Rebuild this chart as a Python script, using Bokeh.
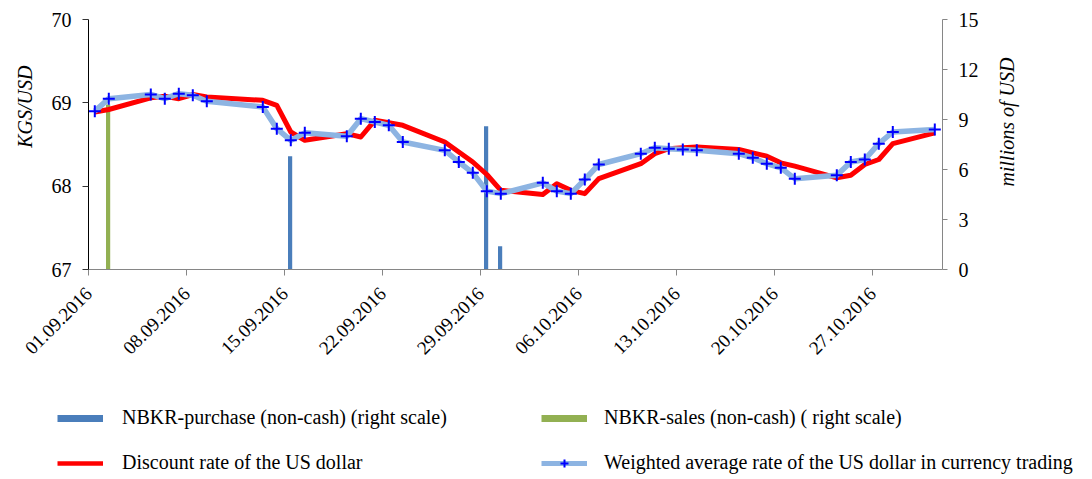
import math
from datetime import date

from bokeh.plotting import figure
from bokeh.layouts import column, row
from bokeh.models import (Range1d, LinearAxis, FixedTicker, Legend, LegendItem,
                          Label, Title, ColumnDataSource)
from bokeh.embed import file_html
from bokeh.resources import INLINE

# ---------------- data ----------------
obs_dates = ["01.09.2016", "02.09.2016", "05.09.2016", "06.09.2016", "07.09.2016",
             "08.09.2016", "09.09.2016", "13.09.2016", "14.09.2016", "15.09.2016",
             "16.09.2016", "19.09.2016", "20.09.2016", "21.09.2016", "22.09.2016",
             "23.09.2016", "26.09.2016", "27.09.2016", "28.09.2016", "29.09.2016",
             "30.09.2016", "03.10.2016", "04.10.2016", "05.10.2016", "06.10.2016",
             "07.10.2016", "10.10.2016", "11.10.2016", "12.10.2016", "13.10.2016",
             "14.10.2016", "17.10.2016", "18.10.2016", "19.10.2016", "20.10.2016",
             "21.10.2016", "24.10.2016", "25.10.2016", "26.10.2016", "27.10.2016",
             "28.10.2016", "31.10.2016"]

weighted_rate = [68.90, 69.05, 69.10, 69.05, 69.11, 69.09, 69.02, 68.95, 68.69, 68.55,
                 68.64, 68.60, 68.81, 68.77, 68.73, 68.53, 68.43, 68.29, 68.16, 67.94,
                 67.91, 68.04, 67.94, 67.91, 68.08, 68.26, 68.39, 68.46, 68.45, 68.44,
                 68.43, 68.39, 68.34, 68.27, 68.22, 68.09, 68.13, 68.29, 68.32, 68.51,
                 68.65, 68.68]

discount_rate = [68.89, 68.92, 69.06, 69.08, 69.05, 69.10, 69.07, 69.03, 68.97, 68.65,
                 68.55, 68.63, 68.59, 68.79, 68.76, 68.73, 68.53, 68.41, 68.29, 68.14,
                 67.95, 67.90, 68.03, 67.95, 67.91, 68.09, 68.27, 68.39, 68.45, 68.46,
                 68.47, 68.44, 68.40, 68.36, 68.28, 68.24, 68.10, 68.13, 68.26, 68.32,
                 68.51, 68.64]

purchase_dates = ["15.09.2016", "29.09.2016", "30.09.2016"]
purchase_values = [6.8, 8.6, 1.4]          # millions of USD (right scale)

sales_dates = ["02.09.2016"]
sales_values = [9.9]                        # millions of USD (right scale)

tick_labels = ["01.09.2016", "08.09.2016", "15.09.2016", "22.09.2016", "29.09.2016",
               "06.10.2016", "13.10.2016", "20.10.2016", "27.10.2016"]

left_ticks = [67, 68, 69, 70]
right_ticks = [0, 3, 6, 9, 12, 15]

legend_labels = ["NBKR-purchase (non-cash) (right scale)",
                 "Discount rate of the US dollar",
                 "NBKR-sales (non-cash) ( right scale)",
                 "Weighted average rate of the US dollar in currency trading"]

# ---------------- helpers ----------------
START = date(2016, 9, 1)
END = date(2016, 11, 1)


def day_num(s):
    d, m, y = map(int, s.split("."))
    return (date(y, m, d) - START).days


FONT = "Liberation Serif"
BAR_BLUE = "#4A7EBB"
BAR_GREEN = "#92B052"
RED = "#FF0000"
LIGHT_BLUE = "#8DB4E2"
CROSS_BLUE = "#0000FF"
GRAY = "#868686"

x_obs = [day_num(s) + 0.45 for s in obs_dates]
x_pur = [day_num(s) + 0.4 for s in purchase_dates]
x_sal = [day_num(s) + 0.4 for s in sales_dates]

src_lines = ColumnDataSource(dict(x=x_obs, w=weighted_rate, d=discount_rate))
src_pur = ColumnDataSource(dict(x=x_pur, v=purchase_values))
src_sal = ColumnDataSource(dict(x=x_sal, v=sales_values))

MAIN_W, MAIN_H = 990, 395
TOTAL_W, TOTAL_H = 1092, 479

# ---------------- main figure ----------------
p = figure(width=MAIN_W, height=MAIN_H, title=None,
           x_range=Range1d(0, (END - START).days), y_range=Range1d(67, 70),
           output_backend="svg", toolbar_location=None,
           min_border_left=88, min_border_right=MAIN_W - 942,
           min_border_top=19, min_border_bottom=MAIN_H - 269)
p.outline_line_color = None
p.grid.visible = False

p.extra_y_ranges = {"usd": Range1d(0, 15)}

p.vbar(x="x", top="v", bottom=0, width=0.3, source=src_pur, y_range_name="usd",
       fill_color=BAR_BLUE, line_color=None)
p.vbar(x="x", top="v", bottom=0, width=0.3, source=src_sal, y_range_name="usd",
       fill_color=BAR_GREEN, line_color=None)

p.line("x", "d", source=src_lines, line_color=RED, line_width=5, line_join="round")
p.line("x", "w", source=src_lines, line_color=LIGHT_BLUE, line_width=5.5,
       line_join="round")
p.scatter("x", "w", source=src_lines, marker="cross", size=12,
          line_color=CROSS_BLUE, line_width=2)

# x axis
xa = p.xaxis[0]
xa.ticker = FixedTicker(ticks=[day_num(s) for s in tick_labels])
xa.major_label_overrides = {day_num(s): s for s in tick_labels}
xa.major_label_orientation = math.pi / 4
xa.minor_tick_line_color = None
xa.axis_line_color = GRAY
xa.major_tick_line_color = GRAY
xa.major_tick_in = 0
xa.major_tick_out = 6
xa.major_label_standoff = 15
xa.major_label_text_font = FONT
xa.major_label_text_font_size = "19px"
xa.major_label_text_color = "black"

# left axis
ya = p.yaxis[0]
ya.ticker = FixedTicker(ticks=left_ticks)
ya.minor_tick_line_color = None
ya.axis_line_color = "black"
ya.major_tick_line_color = "#333333"
ya.major_tick_in = 0
ya.major_tick_out = 6
ya.major_label_standoff = 11
ya.major_label_text_font = FONT
ya.major_label_text_font_size = "20px"
ya.major_label_text_color = "black"

left_title = Title(text="KGS/USD", align="right", vertical_align="top", offset=46,
                   text_font=FONT, text_font_style="italic", text_font_size="20px",
                   text_color="black")
try:
    left_title.standoff = 22
except AttributeError:
    pass
p.add_layout(left_title, "left")

# right axis
ra = LinearAxis(y_range_name="usd", ticker=FixedTicker(ticks=right_ticks))
ra.minor_tick_line_color = None
ra.axis_line_color = GRAY
ra.major_tick_line_color = GRAY
ra.major_tick_in = 0
ra.major_tick_out = 5
ra.major_label_standoff = 11
ra.major_label_text_font = FONT
ra.major_label_text_font_size = "20px"
ra.major_label_text_color = "black"
p.add_layout(ra, "right")

# ---------------- right title strip ----------------
pr = figure(width=TOTAL_W - MAIN_W, height=MAIN_H, title=None,
            x_range=Range1d(MAIN_W, TOTAL_W), y_range=Range1d(0, MAIN_H),
            output_backend="svg", toolbar_location=None, min_border=0,
            x_axis_location=None, y_axis_location=None)
pr.outline_line_color = None
pr.grid.visible = False
pr.add_layout(Label(x=1006, y=MAIN_H - 162, text="millions of USD", angle=math.pi / 2,
                    text_align="center", text_baseline="middle",
                    text_font=FONT, text_font_style="italic", text_font_size="20px",
                    text_color="black"))

# ---------------- legend strip ----------------
LEG_H = TOTAL_H - MAIN_H
pl = figure(width=TOTAL_W, height=LEG_H, title=None,
            x_range=Range1d(0, TOTAL_W), y_range=Range1d(0, LEG_H),
            output_backend="svg", toolbar_location=None, min_border=0,
            x_axis_location=None, y_axis_location=None)
pl.outline_line_color = None
pl.grid.visible = False

# legend swatches (kept outside the visible range of this strip)
OFF_X, OFF_Y = [-100, -90], [-100, -100]
sw_pur = pl.line(x=OFF_X, y=OFF_Y, line_color=BAR_BLUE, line_width=7, line_cap="butt")
sw_disc = pl.line(x=OFF_X, y=OFF_Y, line_color=RED, line_width=4.5)
sw_sal = pl.line(x=OFF_X, y=OFF_Y, line_color=BAR_GREEN, line_width=7, line_cap="butt")
sw_wl = pl.line(x=OFF_X, y=OFF_Y, line_color=LIGHT_BLUE, line_width=5)
sw_wp = pl.scatter(x=OFF_X[:1], y=OFF_Y[:1], marker="cross", size=8,
                   line_color=CROSS_BLUE, line_width=2)


def make_legend(items, loc, standoff):
    return Legend(items=items, location=loc, orientation="vertical",
                  glyph_width=46, glyph_height=20, label_height=20, spacing=22,
                  padding=0, margin=0, label_standoff=standoff,
                  border_line_color=None, background_fill_alpha=0,
                  label_text_font=FONT, label_text_font_size="20px",
                  label_text_color="black")


pl.add_layout(make_legend([
    LegendItem(label=legend_labels[0], renderers=[sw_pur]),
    LegendItem(label=legend_labels[1], renderers=[sw_disc]),
], (57, 5), 19))
pl.add_layout(make_legend([
    LegendItem(label=legend_labels[2], renderers=[sw_sal]),
    LegendItem(label=legend_labels[3], renderers=[sw_wl, sw_wp]),
], (541, 5), 17))

layout = column(row(p, pr, spacing=0), pl, spacing=0)

open("out.html", "w").write(file_html(layout, INLINE))
